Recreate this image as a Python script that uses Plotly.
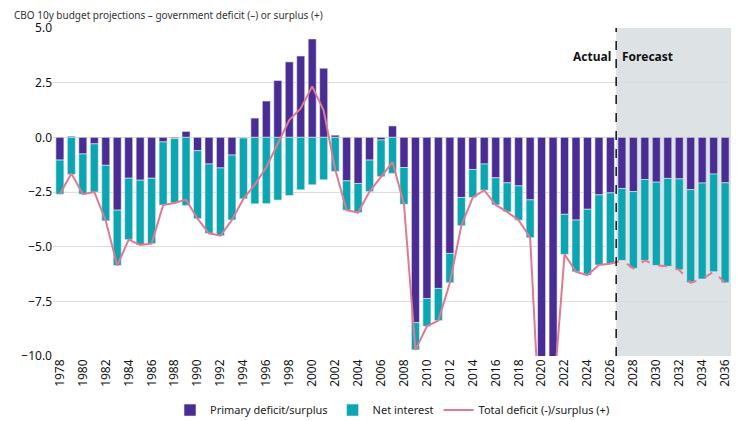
import plotly.graph_objects as go

years = list(range(1978, 2037))
primary = [-1.04, 0.05, -0.76, -0.3, -1.28, -3.33, -1.87, -1.96, -1.87, -0.21,
           -0.06, 0.27, -0.61, -1.22, -1.4, -0.81, -0.03, 0.88, 1.66, 2.6,
           3.45, 3.72, 4.5, 3.16, 0.1, -1.99, -2.11, -1.04, -0.12, 0.52,
           -1.38, -8.47, -7.37, -6.91, -5.31, -2.75, -1.47, -1.22, -1.85, -2.08,
           -2.22, -2.86, -13.1, -10.6, -3.52, -3.78, -3.29, -2.63, -2.54, -2.34,
           -2.48, -1.93, -2.05, -1.88, -1.9, -2.39, -2.09, -1.68, -2.08]
total = [-2.6, -1.65, -2.6, -2.5, -3.82, -5.86, -4.68, -4.92, -4.86, -3.1,
         -3.0, -2.85, -3.72, -4.39, -4.5, -3.78, -2.81, -2.16, -1.37, -0.27,
         0.79, 1.32, 2.33, 1.22, -1.46, -3.33, -3.44, -2.48, -1.8, -1.13,
         -3.06, -9.72, -8.64, -8.38, -6.65, -4.04, -2.75, -2.42, -3.09, -3.41,
         -3.79, -4.59, -14.7, -12.1, -5.35, -6.15, -6.3, -5.84, -5.78, -5.63,
         -5.99, -5.63, -5.86, -5.9, -6.06, -6.65, -6.48, -6.15, -6.65]
interest = [round(t - p, 2) for t, p in zip(total, primary)]
last_actual = 2026

PURPLE = "#4a2d94"
TEAL = "#0ca5b2"
PINK = "#e07a93"
FONT = "Noto Sans, Open Sans, sans-serif"

ia = years.index(last_actual)

fig = go.Figure()
fig.add_trace(go.Bar(x=years, y=primary, name="Primary deficit/surplus",
                     marker=dict(color=PURPLE, line=dict(color="#e8eef0", width=0.6))))
fig.add_trace(go.Bar(x=years, y=interest, name="Net interest",
                     marker=dict(color=TEAL, line=dict(color="#e8eef0", width=0.6))))
fig.add_trace(go.Scatter(x=years[:ia + 1], y=total[:ia + 1], mode="lines",
                         name="Total deficit (-)/surplus (+)",
                         line=dict(color=PINK, width=2)))
fig.add_trace(go.Scatter(x=years[ia:], y=total[ia:], mode="lines", showlegend=False,
                         line=dict(color=PINK, width=2, dash="dash")))

fig.add_vrect(x0=last_actual + 0.5, x1=2036.6, fillcolor="#dde2e4", line_width=0, layer="below")
fig.add_vline(x=last_actual + 0.5, line=dict(color="#111", width=1.5, dash="dash"))
fig.add_annotation(x=last_actual + 0.2, y=3.7, text="<b>Actual</b>", showarrow=False,
                   xanchor="right", font=dict(size=12, color="#111", family=FONT))
fig.add_annotation(x=last_actual + 0.8, y=3.7, text="<b>Forecast</b>", showarrow=False,
                   xanchor="left", font=dict(size=12, color="#111", family=FONT))
# chart title, placed as a paper annotation so it sits above the 5.0 tick
fig.add_annotation(xref="paper", yref="paper", x=-0.06, y=1.04, xanchor="left", yanchor="middle",
                   text="CBO 10y budget projections \u2013 government deficit (\u2013) or surplus (+)",
                   showarrow=False, font=dict(size=10, color="#333", family=FONT))

fig.update_layout(
    barmode="relative",
    bargap=0.3,
    width=739, height=421,
    paper_bgcolor="white", plot_bgcolor="white",
    margin=dict(l=45, r=15, t=20, b=73, autoexpand=False),
    font=dict(family=FONT, size=11, color="#222"),
    legend=dict(orientation="h", x=0.5, xanchor="center", yref="container", y=0.045,
                yanchor="middle", font=dict(size=11)),
    xaxis=dict(range=[1977.4, 2036.6], tickmode="linear", tick0=1978, dtick=2,
               tickangle=-90, showgrid=False, zeroline=False, automargin=False,
               tickfont=dict(size=12, color="#111")),
    yaxis=dict(range=[-10, 5], dtick=2.5, tickformat=".1f", gridcolor="#dcdcdc",
               zeroline=False, automargin=False, tickfont=dict(size=12, color="#111")),
)

fig.write_html("out.html")
